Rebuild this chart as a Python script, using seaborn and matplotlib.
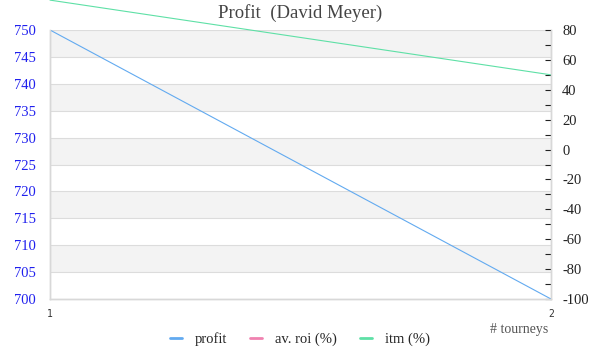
import matplotlib
matplotlib.use('agg')
import matplotlib.pyplot as plt
import seaborn as sns
import numpy as np
import pandas as pd
from matplotlib.lines import Line2D

# data
tourneys = [1, 2]
profit = [750, 700]
av_roi = [350, 340]   # off the visible range
itm = [100, 50]

title = 'Profit  (David Meyer)'
colors = {'profit': '#62aaf0', 'av. roi (%)': '#f082b0', 'itm (%)': '#5ee0a6'}

sns.set_theme(style='white')
plt.rcParams['font.family'] = ['Liberation Serif', 'DejaVu Serif']

fig = plt.figure(figsize=(6, 3.6), dpi=100)
ax = fig.add_axes([50 / 600, 1 - 299 / 360, 501 / 600, 269 / 360])
ax2 = ax.twinx()

df = pd.DataFrame({'tourneys': tourneys, 'profit': profit, 'roi': av_roi, 'itm': itm})

# alternating bands + grid on the left axis
ax.set_ylim(700, 750)
ax.set_xlim(1, 2)
yt = np.arange(700, 751, 5)
for i, lo in enumerate(yt[:-1]):
	if i % 2 == 1:
		ax.axhspan(lo, lo + 5, color='#f3f3f3', zorder=0, lw=0)
for y in yt[1:]:
	ax.axhline(y, color='#dcdcdc', lw=0.8, zorder=0.5)

sns.lineplot(data=df, x='tourneys', y='profit', ax=ax, color=colors['profit'], lw=0.8, zorder=3)
ax2.set_ylim(-100, 80)
sns.lineplot(data=df, x='tourneys', y='roi', ax=ax2, color=colors['av. roi (%)'], lw=0.8)
sns.lineplot(data=df, x='tourneys', y='itm', ax=ax2, color=colors['itm (%)'], lw=0.8)
ax2.lines[-1].set_clip_on(False)

ax.set_yticks(yt)
ax.set_yticklabels([str(v) for v in yt], color='#2020ee', fontsize=10.5)
ax.tick_params(axis='y', length=0, pad=10)
ax.set_xticks(tourneys)
ax.set_xticklabels([str(t) for t in tourneys], fontsize=7, family='DejaVu Sans Mono', color='#333')
ax.tick_params(axis='x', length=0, pad=7)
ax.set_xlabel('')
ax.set_ylabel('')

ax2.set_yticks(np.arange(-100, 81, 10), minor=True)
ax2.set_yticks(np.arange(-100, 81, 20))
ax2.set_yticklabels([str(v) for v in np.arange(-100, 81, 20)], fontsize=10.5, color='#222')
ax2.tick_params(axis='y', which='both', direction='in', length=4, width=0.8, color='#222', pad=8, right=True)
ax2.set_ylabel('')
ax2.set_xlabel('')

for a in (ax, ax2):
	a.spines['top'].set_visible(False)
	for s in ('left', 'bottom', 'right'):
		a.spines[s].set_color('#d8d8d8')
		a.spines[s].set_linewidth(1)
	a.grid(False)

fig.text(0.5, 1 - 13 / 360, title, ha='center', va='center', fontsize=13.5, color='#444444')
fig.text(548 / 600, 1 - 329 / 360, '# tourneys', ha='right', va='center', fontsize=10, color='#555555')

handles = [Line2D([0], [0], color=c, lw=2) for c in colors.values()]
fig.legend(handles, list(colors.keys()), loc='center', bbox_to_anchor=(0.5, 1 - 339 / 360), ncol=3,
	frameon=False, fontsize=10.5, handlelength=0.8, columnspacing=1.6, handletextpad=0.9)

fig.savefig('out.png', dpi=100)
